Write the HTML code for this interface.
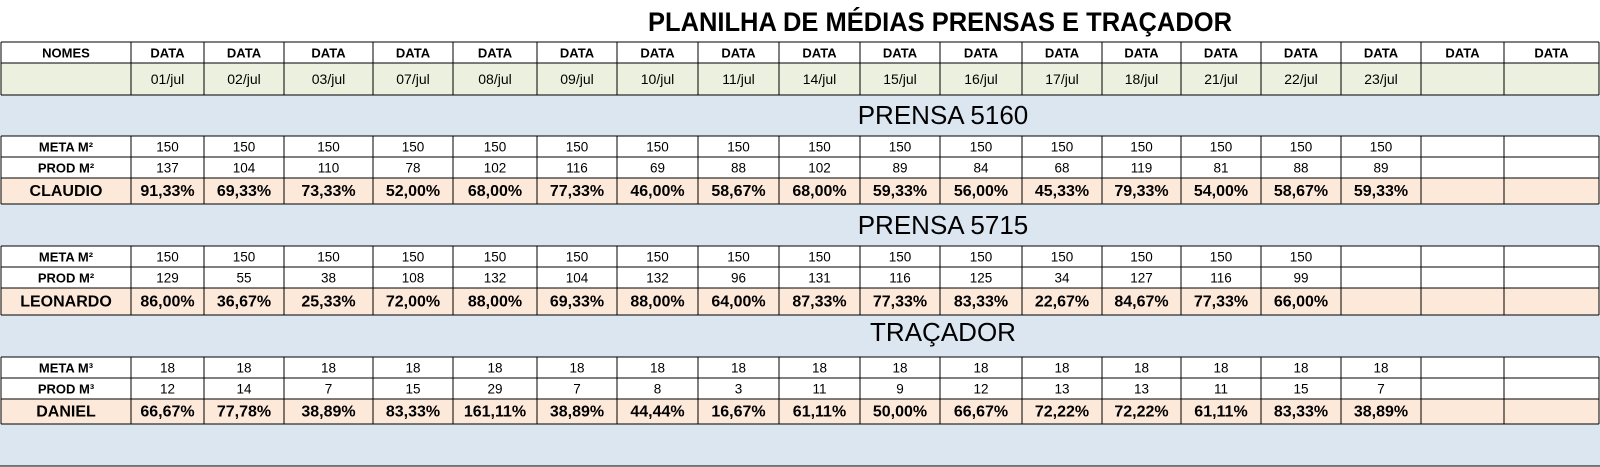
<!DOCTYPE html>
<html><head><meta charset="utf-8"><style>
html,body{margin:0;padding:0;background:#fff;}
svg{display:block;font-family:"Liberation Sans",Arial,sans-serif;}
</style></head><body>
<svg id="s" width="1600" height="467" xmlns="http://www.w3.org/2000/svg"></svg>
<script>
const dates=["01/jul","02/jul","03/jul","07/jul","08/jul","09/jul","10/jul","11/jul","14/jul","15/jul","16/jul","17/jul","18/jul","21/jul","22/jul","23/jul","",""];
const meta1=[150,150,150,150,150,150,150,150,150,150,150,150,150,150,150,150];
const prod1=[137,104,110,78,102,116,69,88,102,89,84,68,119,81,88,89];
const pct1=["91,33%","69,33%","73,33%","52,00%","68,00%","77,33%","46,00%","58,67%","68,00%","59,33%","56,00%","45,33%","79,33%","54,00%","58,67%","59,33%"];
const meta2=[150,150,150,150,150,150,150,150,150,150,150,150,150,150,150];
const prod2=[129,55,38,108,132,104,132,96,131,116,125,34,127,116,99];
const pct2=["86,00%","36,67%","25,33%","72,00%","88,00%","69,33%","88,00%","64,00%","87,33%","77,33%","83,33%","22,67%","84,67%","77,33%","66,00%"];
const meta3=[18,18,18,18,18,18,18,18,18,18,18,18,18,18,18,18];
const prod3=[12,14,7,15,29,7,8,3,11,9,12,13,13,11,15,7];
const pct3=["66,67%","77,78%","38,89%","83,33%","161,11%","38,89%","44,44%","16,67%","61,11%","50,00%","66,67%","72,22%","72,22%","61,11%","83,33%","38,89%"];

const X=[1,131,204,284,373,453,537,617,698,779,860,940,1022,1102,1181,1261,1341,1421,1504,1599];
const s=document.getElementById('s');
const NS="http://www.w3.org/2000/svg";
function mk(t,a,p){const e=document.createElementNS(NS,t);for(const k in a)e.setAttribute(k,a[k]);(p||s).appendChild(e);return e;}
function rect(x,y,w,h,f){return mk('rect',{x:x,y:y,width:w,height:h,fill:f});}
function line(x1,y1,x2,y2){return mk('line',{x1:x1,y1:y1,x2:x2,y2:y2,stroke:'#000','stroke-width':1.3,'shape-rendering':'crispEdges'});}
function txt(x,y,str,size,bold,name){const e=mk('text',{x:x,y:y,'font-size':size,'font-weight':bold?'bold':'normal','text-anchor':'middle','dominant-baseline':'central',fill:'#000'});e.textContent=str;


return e;}

// title
const t=txt(940,22,"PLANILHA DE MÉDIAS PRENSAS E TRAÇADOR",27,true,'sheet-title');
t.setAttribute('textLength',584);t.setAttribute('lengthAdjust','spacingAndGlyphs');

// background fills
rect(X[0],63,X[19]-X[0],32,'#EBF1DE');
const bands=[[95,136],[204,246],[315,357],[424,466]];
bands.forEach(b=>rect(0,b[0],1600,b[1]-b[0],'#DCE6F1'));
const names=[[178,204],[288,315],[399,424]];
names.forEach(n=>rect(X[0],n[0],X[19]-X[0],n[1]-n[0],'#FDE9D9'));

// header rows
txt((X[0]+X[1])/2,53,"NOMES",13,true,'nomes-header');
for(let i=0;i<18;i++){const cx=(X[i+1]+X[i+2])/2;
txt(cx,53,"DATA",13,true,'data-header');
if(dates[i])txt(cx,79,dates[i],14,false,'date-cell');}
// grid for header
[42,63,95].forEach(y=>line(X[0],y,X[19],y));
X.forEach(x=>line(x,42,x,95));

// sections
const secs=[
 {title:"PRENSA 5160",ty:115,y:[136,157,178,204],lab:["META M²","PROD M²","CLAUDIO"],d:[meta1,prod1,pct1]},
 {title:"PRENSA 5715",ty:225,y:[246,267,288,315],lab:["META M²","PROD M²","LEONARDO"],d:[meta2,prod2,pct2]},
 {title:"TRAÇADOR",ty:332,y:[357,378,399,424],lab:["META M³","PROD M³","DANIEL"],d:[meta3,prod3,pct3]}
];
secs.forEach((sc,si)=>{
 txt(943,sc.ty,sc.title,26,false,'section-title');
 sc.y.forEach(y=>line(X[0],y,X[19],y));
 X.forEach(x=>line(x,sc.y[0],x,sc.y[3]));
 for(let r=0;r<3;r++){
  const cy=(sc.y[r]+sc.y[r+1])/2+0.5;
  const big=r===2;
  txt((X[0]+X[1])/2,cy,sc.lab[r],big?16:13,true,big?'operator-name':'row-label');
  const arr=sc.d[r];
  for(let i=0;i<arr.length;i++){
   txt((X[i+1]+X[i+2])/2,cy,String(arr[i]),big?16:13.5,big,big?'percent-cell':'value-cell');
  }
 }
});
line(0,466,1600,466);
</script>
</body></html>
